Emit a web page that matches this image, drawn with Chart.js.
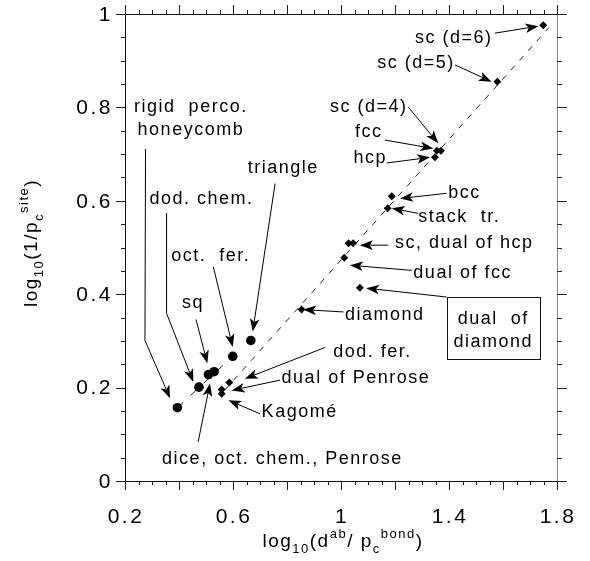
<!DOCTYPE html>
<html>
<head>
<meta charset="utf-8">
<script src="https://cdn.jsdelivr.net/npm/chart.js@4.4.0/dist/chart.umd.min.js"></script>
<style>
html, body { margin: 0; padding: 0; background: #fff; }
</style>
</head>
<body>
<canvas id="myChart" width="590" height="561"></canvas>
<script>
// lattices drawn as small diamonds
var diamondNames = ["sc (d=6)", "sc (d=5)", "sc (d=4)", "fcc", "hcp", "bcc", "stack tr.", "sc", "dual of hcp",
    "dual of fcc", "dual of diamond", "diamond", "dod. fer.", "dual of Penrose", "Kagomé"];
var diamondX = [1.749, 1.579, 1.370, 1.355, 1.348, 1.188, 1.173, 1.028, 1.045, 1.012, 1.070, 0.854, 0.586, 0.558, 0.558];
var diamondY = [0.976, 0.855, 0.707, 0.707, 0.693, 0.610, 0.584, 0.509, 0.509, 0.478, 0.414, 0.367, 0.211, 0.196, 0.187];

// lattices drawn as big dots
var circleNames = ["honeycomb", "dod. chem.", "sq", "dice", "oct. fer.", "triangle"];
var circleX = [0.394, 0.474, 0.509, 0.530, 0.599, 0.666];
var circleY = [0.157, 0.201, 0.228, 0.234, 0.267, 0.301];

// dashed guide lines
var guideX = [0.57, 1.77];
var guideY = [0.195, 0.971];
var dotGuideX = [0.394, 0.599];
var dotGuideY = [0.157, 0.267];

var xTicks = [0.2, 0.6, 1, 1.4, 1.8];
var yTicks = [0, 0.2, 0.4, 0.6, 0.8, 1];

// labels: text, x, y (data units), alignment
var labels = [
    ["rigid  perco.", 0.444, 0.791, "center"],
    ["honeycomb", 0.444, 0.741, "center"],
    ["dod. chem.", 0.483, 0.593, "center"],
    ["oct.  fer.", 0.518, 0.471, "center"],
    ["triangle", 0.786, 0.659, "center"],
    ["sq", 0.452, 0.370, "center"],
    ["dice, oct. chem., Penrose", 0.783, 0.037, "center"],
    ["dod. fer.", 0.971, 0.266, "left"],
    ["dual of Penrose", 0.780, 0.209, "left"],
    ["Kagomé", 0.706, 0.137, "left"],
    ["diamond", 1.015, 0.344, "left"],
    ["dual  of", 1.564, 0.336, "center"],
    ["diamond", 1.564, 0.286, "center"],
    ["dual of fcc", 1.268, 0.434, "left"],
    ["sc, dual of hcp", 1.200, 0.498, "left"],
    ["stack  tr.", 1.286, 0.555, "left"],
    ["bcc", 1.397, 0.605, "left"],
    ["hcp", 1.046, 0.680, "left"],
    ["fcc", 1.052, 0.737, "left"],
    ["sc (d=4)", 0.959, 0.791, "left"],
    ["sc (d=5)", 1.134, 0.884, "left"],
    ["sc (d=6)", 1.274, 0.937, "left"]
];

// arrows: polyline, last point is the head
var arrows = [
    [[0.276, 0.711], [0.274, 0.301], [0.367, 0.177]],
    [[0.354, 0.574], [0.354, 0.359], [0.453, 0.212]],
    [[0.463, 0.346], [0.505, 0.252]],
    [[0.527, 0.459], [0.599, 0.287]],
    [[0.756, 0.637], [0.673, 0.320]],
    [[0.471, 0.084], [0.515, 0.209]],
    [[0.941, 0.286], [0.644, 0.219]],
    [[0.774, 0.216], [0.595, 0.194]],
    [[0.700, 0.144], [0.583, 0.173]],
    [[1.009, 0.362], [0.860, 0.367]],
    [[1.391, 0.394], [1.093, 0.413]],
    [[1.262, 0.451], [1.033, 0.462]],
    [[1.175, 0.505], [1.070, 0.505]],
    [[1.286, 0.573], [1.188, 0.584]],
    [[1.391, 0.616], [1.219, 0.605]],
    [[1.169, 0.681], [1.330, 0.693]],
    [[1.163, 0.730], [1.342, 0.712]],
    [[1.249, 0.801], [1.360, 0.723]],
    [[1.422, 0.891], [1.558, 0.855]],
    [[1.570, 0.959], [1.731, 0.974]]
];
var box = [1.391, 0.394, 1.734, 0.262];

var FONT = '"Liberation Sans", Arial, sans-serif';

function pts(xs, ys) {
    return xs.map(function (x, i) { return { x: x, y: ys[i] }; });
}

function fmt(v) {
    return String(+v.toFixed(2));
}

function richText(ctx, segs, x, y, rotate) {
    var big = "19px " + FONT, small = "13px " + FONT;
    ctx.save();
    ctx.letterSpacing = "1.5px";
    var w = 0;
    segs.forEach(function (s) {
        ctx.font = s[1] ? small : big;
        w += ctx.measureText(s[0]).width;
    });
    ctx.translate(x, y);
    if (rotate) ctx.rotate(-Math.PI / 2);
    var cx = -w / 2;
    ctx.textBaseline = "alphabetic";
    ctx.textAlign = "left";
    ctx.fillStyle = "#000";
    segs.forEach(function (s) {
        ctx.font = s[1] ? small : big;
        var dy = s[1] === "sub" ? 6 : (s[1] === "sup" ? -9 : 0);
        ctx.fillText(s[0], cx, dy);
        cx += ctx.measureText(s[0]).width;
    });
    ctx.restore();
}

var figurePlugin = {
    id: "figure",
    afterDraw: function (chart) {
        var ctx = chart.ctx;
        var xs = chart.scales.x, ys = chart.scales.y;
        var a = chart.chartArea;
        ctx.save();
        ctx.lineWidth = 1;

        // frame
        ctx.strokeStyle = "#111";
        ctx.beginPath();
        ctx.moveTo(a.left + 0.5, a.top);
        ctx.lineTo(a.left + 0.5, a.bottom + 9);
        ctx.moveTo(a.left - 9, a.bottom + 0.5);
        ctx.lineTo(a.right, a.bottom + 0.5);
        ctx.moveTo(a.left - 9, a.top + 0.5);
        ctx.lineTo(a.right, a.top + 0.5);
        ctx.stroke();
        ctx.strokeStyle = "#888";
        ctx.beginPath();
        ctx.moveTo(a.right + 0.5, a.top);
        ctx.lineTo(a.right + 0.5, a.bottom);
        ctx.stroke();

        // ticks every 0.05, longer every 0.2
        ctx.strokeStyle = "#222";
        ctx.beginPath();
        var i, v, p, len;
        for (i = 0; i <= 32; i++) {
            v = 0.2 + i * 0.05;
            p = Math.round(xs.getPixelForValue(v)) + 0.5;
            len = i % 4 === 0 ? 9 : 4;
            ctx.moveTo(p, a.bottom);
            ctx.lineTo(p, a.bottom + len);
            ctx.moveTo(p, a.top);
            ctx.lineTo(p, a.top - len);
        }
        for (i = 0; i <= 20; i++) {
            v = i * 0.05;
            p = Math.round(ys.getPixelForValue(v)) + 0.5;
            len = i % 4 === 0 ? 9 : 4;
            ctx.moveTo(a.left, p);
            ctx.lineTo(a.left - len, p);
            ctx.moveTo(a.right, p);
            ctx.lineTo(a.right + len + 1, p);
        }
        ctx.stroke();

        // tick labels
        ctx.fillStyle = "#000";
        ctx.font = "21px " + FONT;
        ctx.letterSpacing = "2.5px";
        ctx.textBaseline = "middle";
        ctx.textAlign = "center";
        xTicks.forEach(function (t) {
            ctx.fillText(fmt(t), xs.getPixelForValue(t) + 1, a.bottom + 36);
        });
        ctx.textAlign = "right";
        yTicks.forEach(function (t) {
            ctx.fillText(fmt(t), a.left - 12, ys.getPixelForValue(t) + 1);
        });

        // box round "dual of diamond"
        ctx.letterSpacing = "0px";
        ctx.strokeStyle = "#111";
        var bx1 = xs.getPixelForValue(box[0]), by1 = ys.getPixelForValue(box[1]);
        var bx2 = xs.getPixelForValue(box[2]), by2 = ys.getPixelForValue(box[3]);
        ctx.strokeRect(Math.round(bx1) + 0.5, Math.round(by1) + 0.5, Math.round(bx2 - bx1), Math.round(by2 - by1));

        // arrows
        ctx.fillStyle = "#000";
        ctx.strokeStyle = "#000";
        arrows.forEach(function (ar) {
            var pp = ar.map(function (q) { return [xs.getPixelForValue(q[0]), ys.getPixelForValue(q[1])]; });
            var n = pp.length;
            var tip = pp[n - 1], prev = pp[n - 2];
            var ang = Math.atan2(tip[1] - prev[1], tip[0] - prev[0]);
            var hl = 13, hw = 4.8;
            var c = Math.cos(ang), s = Math.sin(ang);
            var base = [tip[0] - c * hl * 0.75, tip[1] - s * hl * 0.75];
            ctx.beginPath();
            ctx.moveTo(pp[0][0], pp[0][1]);
            for (var k = 1; k < n - 1; k++) ctx.lineTo(pp[k][0], pp[k][1]);
            ctx.lineTo(base[0], base[1]);
            ctx.stroke();
            ctx.beginPath();
            ctx.moveTo(tip[0], tip[1]);
            ctx.lineTo(tip[0] - c * hl + s * hw, tip[1] - s * hl - c * hw);
            ctx.lineTo(base[0], base[1]);
            ctx.lineTo(tip[0] - c * hl - s * hw, tip[1] - s * hl + c * hw);
            ctx.closePath();
            ctx.fill();
        });

        // labels
        ctx.letterSpacing = "1.5px";
        ctx.font = "18px " + FONT;
        ctx.textBaseline = "alphabetic";
        labels.forEach(function (l) {
            ctx.textAlign = l[3];
            ctx.fillText(l[0], xs.getPixelForValue(l[1]), ys.getPixelForValue(l[2]));
        });
        ctx.restore();

        // axis titles
        richText(ctx, [["log"], ["10", "sub"], ["(d"], ["ab", "sup"], ["/ p"], ["c", "sub"], ["bond", "sup"], [")"]],
            (a.left + a.right) / 2 + 2, 547, false);
        richText(ctx, [["log"], ["10", "sub"], ["(1/p"], ["c", "sub"], ["site", "sup"], [")"]],
            37, 243, true);
    }
};

var ctx = document.getElementById("myChart").getContext("2d");
var chart = new Chart(ctx, {
    type: "scatter",
    data: {
        datasets: [
            {
                label: "diamonds",
                data: pts(diamondX, diamondY),
                pointStyle: "rectRot",
                pointRadius: 4,
                backgroundColor: "#000",
                borderColor: "#000",
                borderWidth: 0,
                order: 1
            },
            {
                label: "circles",
                data: pts(circleX, circleY),
                pointStyle: "circle",
                pointRadius: 4.8,
                backgroundColor: "#000",
                borderColor: "#000",
                borderWidth: 0,
                order: 1
            },
            {
                type: "line",
                data: pts(guideX, guideY),
                borderColor: "#222",
                borderWidth: 1,
                borderDash: [6, 7],
                pointRadius: 0,
                order: 2
            },
            {
                type: "line",
                data: pts(dotGuideX, dotGuideY),
                borderColor: "#222",
                borderWidth: 1,
                borderDash: [8, 10],
                pointRadius: 0,
                order: 2
            }
        ]
    },
    options: {
        responsive: false,
        animation: false,
        events: [],
        layout: { padding: { top: 14, right: 33, left: 0, bottom: 0 } },
        plugins: { legend: { display: false }, tooltip: { enabled: false } },
        scales: {
            x: {
                type: "linear",
                min: xTicks[0],
                max: xTicks[xTicks.length - 1],
                grid: { display: false },
                border: { display: false },
                afterBuildTicks: function (s) { s.ticks = xTicks.map(function (v) { return { value: v }; }); },
                afterFit: function (s) { s.height = 80; },
                ticks: { display: false }
            },
            y: {
                type: "linear",
                min: yTicks[0],
                max: yTicks[yTicks.length - 1],
                grid: { display: false },
                border: { display: false },
                afterBuildTicks: function (s) { s.ticks = yTicks.map(function (v) { return { value: v }; }); },
                afterFit: function (s) { s.width = 125; },
                ticks: { display: false }
            }
        }
    },
    plugins: [figurePlugin]
});
</script>
</body>
</html>
